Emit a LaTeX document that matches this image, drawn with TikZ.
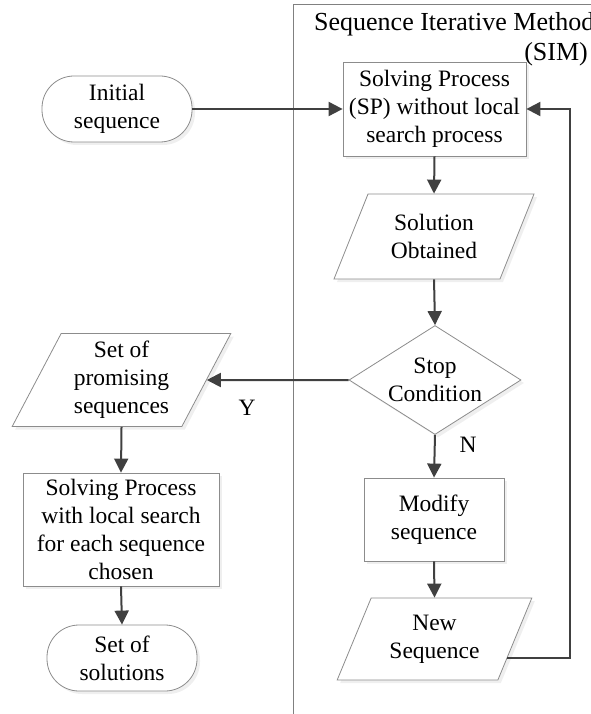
\documentclass[tikz,border=0pt]{standalone}
\usepackage{fontspec}
\setmainfont{Liberation Serif}
\usetikzlibrary{shapes.geometric,arrows.meta,shadows}
\begin{document}
\begin{tikzpicture}[x=1pt,y=-1pt,
  font=\fontsize{23.5}{28}\selectfont,
  frame/.style={draw=black!50, line width=0.8pt},
  base/.style={draw=black!45, line width=0.8pt, fill=white, align=center, inner sep=0pt,
    drop shadow={shadow xshift=3pt, shadow yshift=-3pt, fill=black!12}},
  procbox/.style={base, rectangle},
  terminal/.style={base, rectangle, rounded corners=32pt},
  iobox/.style={base, trapezium, trapezium left angle=63.5, trapezium right angle=116.5,
    trapezium stretches=true},
  decision/.style={base, diamond, aspect=1.58},
  flow/.style={draw=black!75, line width=2pt, -{Triangle[length=14pt,width=14pt]}},
  tag/.style={inner sep=0pt}
]
\useasboundingbox (0,0) rectangle (590,714);

% frame of the iterative method
\draw[frame] (293,714) -- (293,4) -- (600,4);
\node[tag, anchor=base west] (title) at (314,31) {\fontsize{26}{30}\selectfont Sequence Iterative Method};
\node[tag, anchor=base east] (titleb) at (588,61) {\fontsize{26}{30}\selectfont (SIM)};

% nodes
\node[terminal, minimum width=150pt, minimum height=66pt] (init) at (117,109) {Initial\\sequence};
\node[procbox, minimum width=183pt, minimum height=94pt] (sp) at (434.5,109) {Solving Process\\(SP) without local\\search process};
\node[iobox, minimum width=200pt, minimum height=85pt] (sol) at (434,236.5) {Solution\\Obtained};
\node[decision, minimum width=172pt, minimum height=109pt] (stop) at (435,380) {Stop\\Condition};
\node[iobox, minimum width=219pt, minimum height=93pt] (prom) at (121.5,380) {Set of\\promising\\sequences};
\node[procbox, minimum width=196pt, minimum height=113pt] (lsp) at (121,529.5) {Solving Process\\with local search\\for each sequence\\chosen};
\node[terminal, minimum width=150pt, minimum height=66pt] (sols) at (122,658) {Set of\\solutions};
\node[procbox, minimum width=140pt, minimum height=83pt] (mod) at (434,519.5) {Modify\\sequence};
\node[iobox, minimum width=195pt, minimum height=82pt] (news) at (434.5,639) {New\\Sequence};

\coordinate (loopx) at (570,0);

% connectors
\draw[flow] (init.east) -- (sp.west);
\draw[flow] (sp.south) -- (sol.north);
\draw[flow] (sol.south) -- (stop.north);
\draw[flow] (stop.west) -- (prom.east);
\draw[flow] (prom.south) -- (lsp.north);
\draw[flow] (lsp.south) -- (sols.north);
\draw[flow] (stop.south) -- (mod.north);
\draw[flow] (mod.south) -- (news.north);
\draw[flow] (news.-15) -- (news.-15 -| loopx) |- (sp.east);

% branch labels
\node[tag] (ylab) at (247,408) {Y};
\node[tag] (nlab) at (468,445) {N};
\end{tikzpicture}
\end{document}
